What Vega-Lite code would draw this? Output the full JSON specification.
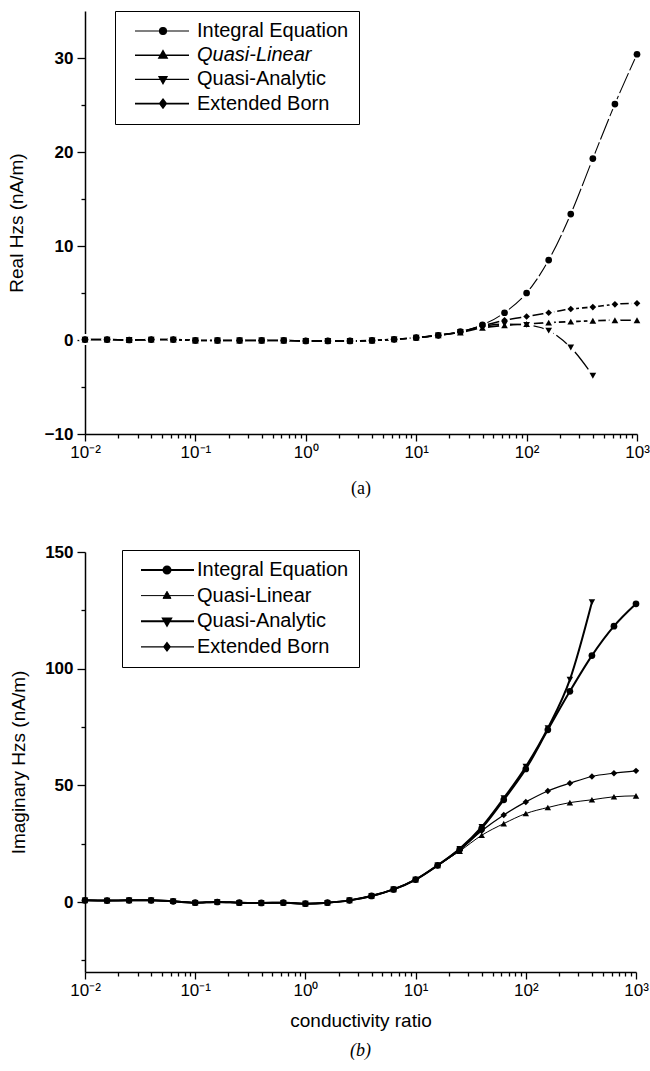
{
  "$schema": "https://vega.github.io/schema/vega-lite/v6.json",
  "padding": {"left": 7, "top": 10, "right": 2, "bottom": 2},
  "spacing": 45,
  "config": {
    "view": {"stroke": null},
    "font": "Liberation Sans",
    "axis": {"domainColor": "black", "tickColor": "black", "labelColor": "black", "titleColor": "black", "grid": false, "domainWidth": 1.5, "tickWidth": 1.3, "labelFont": "Liberation Sans", "titleFont": "Liberation Sans", "titleFontWeight": "normal", "labelOverlap": false, "labelFlush": false}
  },
  "resolve": {"scale": {"strokeWidth": "independent"}, "legend": {"strokeWidth": "independent"}},
  "datasets": {
    "d": [
      {"r": 0.01, "s": "Integral Equation", "re": 0.05, "im": 0.7},
      {"r": 0.01585, "s": "Integral Equation", "re": 0.05, "im": 0.6},
      {"r": 0.02512, "s": "Integral Equation", "re": 0.0, "im": 0.7},
      {"r": 0.03981, "s": "Integral Equation", "re": 0.05, "im": 0.7},
      {"r": 0.0631, "s": "Integral Equation", "re": 0.05, "im": 0.3},
      {"r": 0.1, "s": "Integral Equation", "re": -0.05, "im": -0.3},
      {"r": 0.1585, "s": "Integral Equation", "re": -0.05, "im": 0.0},
      {"r": 0.2512, "s": "Integral Equation", "re": -0.05, "im": -0.3},
      {"r": 0.3981, "s": "Integral Equation", "re": -0.05, "im": -0.4},
      {"r": 0.631, "s": "Integral Equation", "re": -0.05, "im": -0.3},
      {"r": 1, "s": "Integral Equation", "re": -0.1, "im": -0.7},
      {"r": 1.585, "s": "Integral Equation", "re": -0.1, "im": -0.3},
      {"r": 2.512, "s": "Integral Equation", "re": -0.1, "im": 0.7},
      {"r": 3.981, "s": "Integral Equation", "re": -0.05, "im": 2.6},
      {"r": 6.31, "s": "Integral Equation", "re": 0.07, "im": 5.4},
      {"r": 10, "s": "Integral Equation", "re": 0.25, "im": 9.6},
      {"r": 15.85, "s": "Integral Equation", "re": 0.5, "im": 15.7},
      {"r": 25.12, "s": "Integral Equation", "re": 0.9, "im": 22.6},
      {"r": 39.81, "s": "Integral Equation", "re": 1.6, "im": 31.6},
      {"r": 63.1, "s": "Integral Equation", "re": 2.9, "im": 43.8},
      {"r": 100, "s": "Integral Equation", "re": 5.0, "im": 57.0},
      {"r": 158.5, "s": "Integral Equation", "re": 8.5, "im": 73.8},
      {"r": 251.2, "s": "Integral Equation", "re": 13.4, "im": 90.3},
      {"r": 398.1, "s": "Integral Equation", "re": 19.3, "im": 105.6},
      {"r": 631, "s": "Integral Equation", "re": 25.1, "im": 118.2},
      {"r": 1000, "s": "Integral Equation", "re": 30.4, "im": 127.8},

      {"r": 0.01, "s": "Quasi-Linear", "re": 0.05, "im": 0.7},
      {"r": 0.01585, "s": "Quasi-Linear", "re": 0.05, "im": 0.6},
      {"r": 0.02512, "s": "Quasi-Linear", "re": 0.0, "im": 0.7},
      {"r": 0.03981, "s": "Quasi-Linear", "re": 0.05, "im": 0.7},
      {"r": 0.0631, "s": "Quasi-Linear", "re": 0.05, "im": 0.3},
      {"r": 0.1, "s": "Quasi-Linear", "re": -0.05, "im": -0.3},
      {"r": 0.1585, "s": "Quasi-Linear", "re": -0.05, "im": 0.0},
      {"r": 0.2512, "s": "Quasi-Linear", "re": -0.05, "im": -0.3},
      {"r": 0.3981, "s": "Quasi-Linear", "re": -0.05, "im": -0.4},
      {"r": 0.631, "s": "Quasi-Linear", "re": -0.05, "im": -0.3},
      {"r": 1, "s": "Quasi-Linear", "re": -0.1, "im": -0.7},
      {"r": 1.585, "s": "Quasi-Linear", "re": -0.1, "im": -0.3},
      {"r": 2.512, "s": "Quasi-Linear", "re": -0.1, "im": 0.7},
      {"r": 3.981, "s": "Quasi-Linear", "re": -0.05, "im": 2.6},
      {"r": 6.31, "s": "Quasi-Linear", "re": 0.07, "im": 5.4},
      {"r": 10, "s": "Quasi-Linear", "re": 0.25, "im": 9.6},
      {"r": 15.85, "s": "Quasi-Linear", "re": 0.5, "im": 15.7},
      {"r": 25.12, "s": "Quasi-Linear", "re": 0.8, "im": 21.8},
      {"r": 39.81, "s": "Quasi-Linear", "re": 1.3, "im": 28.6},
      {"r": 63.1, "s": "Quasi-Linear", "re": 1.55, "im": 33.6},
      {"r": 100, "s": "Quasi-Linear", "re": 1.7, "im": 37.9},
      {"r": 158.5, "s": "Quasi-Linear", "re": 1.85, "im": 40.5},
      {"r": 251.2, "s": "Quasi-Linear", "re": 1.95, "im": 42.6},
      {"r": 398.1, "s": "Quasi-Linear", "re": 2.05, "im": 43.8},
      {"r": 631, "s": "Quasi-Linear", "re": 2.1, "im": 45.1},
      {"r": 1000, "s": "Quasi-Linear", "re": 2.1, "im": 45.5},

      {"r": 0.01, "s": "Quasi-Analytic", "re": 0.05, "im": 0.7},
      {"r": 0.01585, "s": "Quasi-Analytic", "re": 0.05, "im": 0.6},
      {"r": 0.02512, "s": "Quasi-Analytic", "re": 0.0, "im": 0.7},
      {"r": 0.03981, "s": "Quasi-Analytic", "re": 0.05, "im": 0.7},
      {"r": 0.0631, "s": "Quasi-Analytic", "re": 0.05, "im": 0.3},
      {"r": 0.1, "s": "Quasi-Analytic", "re": -0.05, "im": -0.3},
      {"r": 0.1585, "s": "Quasi-Analytic", "re": -0.05, "im": 0.0},
      {"r": 0.2512, "s": "Quasi-Analytic", "re": -0.05, "im": -0.3},
      {"r": 0.3981, "s": "Quasi-Analytic", "re": -0.05, "im": -0.4},
      {"r": 0.631, "s": "Quasi-Analytic", "re": -0.05, "im": -0.3},
      {"r": 1, "s": "Quasi-Analytic", "re": -0.1, "im": -0.7},
      {"r": 1.585, "s": "Quasi-Analytic", "re": -0.1, "im": -0.3},
      {"r": 2.512, "s": "Quasi-Analytic", "re": -0.1, "im": 0.7},
      {"r": 3.981, "s": "Quasi-Analytic", "re": -0.05, "im": 2.6},
      {"r": 6.31, "s": "Quasi-Analytic", "re": 0.07, "im": 5.4},
      {"r": 10, "s": "Quasi-Analytic", "re": 0.25, "im": 9.6},
      {"r": 15.85, "s": "Quasi-Analytic", "re": 0.5, "im": 15.7},
      {"r": 25.12, "s": "Quasi-Analytic", "re": 0.85, "im": 22.8},
      {"r": 39.81, "s": "Quasi-Analytic", "re": 1.45, "im": 32.2},
      {"r": 63.1, "s": "Quasi-Analytic", "re": 1.7, "im": 44.5},
      {"r": 100, "s": "Quasi-Analytic", "re": 1.6, "im": 58.0},
      {"r": 158.5, "s": "Quasi-Analytic", "re": 1.0, "im": 74.5},
      {"r": 251.2, "s": "Quasi-Analytic", "re": -0.8, "im": 95.3},
      {"r": 398.1, "s": "Quasi-Analytic", "re": -3.8, "im": 128.5},

      {"r": 0.01, "s": "Extended Born", "re": 0.05, "im": 0.7},
      {"r": 0.01585, "s": "Extended Born", "re": 0.05, "im": 0.6},
      {"r": 0.02512, "s": "Extended Born", "re": 0.0, "im": 0.7},
      {"r": 0.03981, "s": "Extended Born", "re": 0.05, "im": 0.7},
      {"r": 0.0631, "s": "Extended Born", "re": 0.05, "im": 0.3},
      {"r": 0.1, "s": "Extended Born", "re": -0.05, "im": -0.3},
      {"r": 0.1585, "s": "Extended Born", "re": -0.05, "im": 0.0},
      {"r": 0.2512, "s": "Extended Born", "re": -0.05, "im": -0.3},
      {"r": 0.3981, "s": "Extended Born", "re": -0.05, "im": -0.4},
      {"r": 0.631, "s": "Extended Born", "re": -0.05, "im": -0.3},
      {"r": 1, "s": "Extended Born", "re": -0.1, "im": -0.7},
      {"r": 1.585, "s": "Extended Born", "re": -0.1, "im": -0.3},
      {"r": 2.512, "s": "Extended Born", "re": -0.1, "im": 0.7},
      {"r": 3.981, "s": "Extended Born", "re": -0.05, "im": 2.6},
      {"r": 6.31, "s": "Extended Born", "re": 0.07, "im": 5.4},
      {"r": 10, "s": "Extended Born", "re": 0.25, "im": 9.6},
      {"r": 15.85, "s": "Extended Born", "re": 0.5, "im": 15.7},
      {"r": 25.12, "s": "Extended Born", "re": 0.85, "im": 22.2},
      {"r": 39.81, "s": "Extended Born", "re": 1.5, "im": 30.5},
      {"r": 63.1, "s": "Extended Born", "re": 2.1, "im": 37.3},
      {"r": 100, "s": "Extended Born", "re": 2.5, "im": 42.9},
      {"r": 158.5, "s": "Extended Born", "re": 2.9, "im": 47.6},
      {"r": 251.2, "s": "Extended Born", "re": 3.3, "im": 50.9},
      {"r": 398.1, "s": "Extended Born", "re": 3.5, "im": 53.8},
      {"r": 631, "s": "Extended Born", "re": 3.8, "im": 55.2},
      {"r": 1000, "s": "Extended Born", "re": 3.9, "im": 56.2}
    ]
  },
  "vconcat": [
    {
      "width": 552,
      "height": 423,
      "data": {"name": "d"},
      "title": {"text": "(a)", "orient": "bottom", "font": "Liberation Serif", "fontSize": 18, "fontWeight": "normal", "color": "black", "offset": 20},
      "encoding": {
        "x": {
          "field": "r", "type": "quantitative",
          "scale": {"type": "log", "domain": [0.01, 1000], "nice": false},
          "axis": {
            "title": null,
            "values": [0.01,0.02,0.03,0.04,0.05,0.06,0.07,0.08,0.09,0.1,0.2,0.3,0.4,0.5,0.6,0.7,0.8,0.9,1,2,3,4,5,6,7,8,9,10,20,30,40,50,60,70,80,90,100,200,300,400,500,600,700,800,900,1000],
            "tickSize": {"condition": {"test": "abs(log(datum.value)/LN10 - round(log(datum.value)/LN10)) < 0.001", "value": 7}, "value": 4},
            "labelExpr": "abs(log(datum.value)/LN10 - round(log(datum.value)/LN10)) > 0.001 ? '' : datum.value < 0.05 ? '10⁻²' : datum.value < 0.5 ? '10⁻¹' : datum.value < 5 ? '10⁰' : datum.value < 50 ? '10¹' : datum.value < 500 ? '10²' : '10³'",
            "labelFontSize": 17, "labelPadding": 3
          }
        },
        "y": {
          "field": "re", "type": "quantitative",
          "scale": {"domain": [-10, 35], "nice": false, "zero": false},
          "axis": {
            "title": "Real Hzs (nA/m)", "titleFontSize": 19, "titlePadding": 18,
            "values": [-10,-5,0,5,10,15,20,25,30],
            "tickSize": {"condition": {"test": "datum.value % 10 == 0", "value": 8}, "value": 4},
            "labelExpr": "datum.value % 10 == 0 ? datum.label : ''",
            "labelFontSize": 17, "labelFontWeight": "bold", "labelPadding": 4
          }
        }
      },
      "layer": [
        {
          "mark": {"type": "line", "interpolate": "monotone", "color": "black", "strokeDash": [22, 3]},
          "encoding": {
            "detail": {"field": "s"},
            "strokeWidth": {
              "field": "s", "type": "nominal",
              "scale": {"type": "ordinal", "domain": ["Integral Equation", "Quasi-Linear", "Quasi-Analytic", "Extended Born"], "range": [1.1, 1.6, 1.3, 1.6]},
              "legend": {
                "title": null, "orient": "none", "legendX": 30, "legendY": 0,
                "labelFontSize": 20, "labelFont": "Liberation Sans", "labelColor": "black",
                "labelFontStyle": {"expr": "datum.value == 'Quasi-Linear' ? 'italic' : 'normal'"},
                "symbolType": {"expr": "datum.value == 'Integral Equation' ? 'M-5.6,0H5.2M-0.7,0A0.7,0.7,0,1,0,0.7,0A0.7,0.7,0,1,0,-0.7,0Z' : datum.value == 'Quasi-Linear' ? 'M-5.6,0H5.2M0,-0.85L0.8,0.55L-0.8,0.55Z' : datum.value == 'Quasi-Analytic' ? 'M-5.6,0H5.2M0,0.85L0.8,-0.55L-0.8,-0.55Z' : 'M-5.6,0H5.2M0,-0.85L0.65,0L0,0.85L-0.65,0Z'"},
                "symbolSize": 100, "symbolFillColor": "black", "symbolStrokeColor": "black", "symbolOpacity": 1,
                "symbolOffset": 28, "labelOffset": 24,
                "strokeColor": "black", "fillColor": "white", "padding": 10, "rowPadding": 4.2
              }
            }
          }
        },
        {
          "mark": {"type": "point", "filled": true, "shape": "circle", "color": "white", "size": 120, "opacity": 1},
          "encoding": {}
        },
        {
          "transform": [{"filter": {"field": "s", "equal": "Integral Equation"}}],
          "mark": {"type": "point", "filled": true, "shape": "circle", "color": "black", "size": 45, "opacity": 1},
          "encoding": {}
        },
        {
          "transform": [{"filter": {"field": "s", "equal": "Quasi-Linear"}}],
          "mark": {"type": "point", "filled": true, "shape": "triangle-up", "color": "black", "size": 45, "opacity": 1},
          "encoding": {}
        },
        {
          "transform": [{"filter": {"field": "s", "equal": "Quasi-Analytic"}}],
          "mark": {"type": "point", "filled": true, "shape": "triangle-down", "color": "black", "size": 45, "opacity": 1},
          "encoding": {}
        },
        {
          "transform": [{"filter": {"field": "s", "equal": "Extended Born"}}],
          "mark": {"type": "point", "filled": true, "shape": "diamond", "color": "black", "size": 45, "opacity": 1},
          "encoding": {}
        }
      ]
    },
    {
      "width": 551,
      "height": 420,
      "data": {"name": "d"},
      "title": {"text": "(b)", "orient": "bottom", "font": "Liberation Serif", "fontSize": 18, "fontStyle": "italic", "fontWeight": "normal", "color": "black", "offset": 12},
      "encoding": {
        "x": {
          "field": "r", "type": "quantitative",
          "scale": {"type": "log", "domain": [0.01, 1000], "nice": false},
          "axis": {
            "title": "conductivity ratio", "titleFontSize": 19, "titlePadding": 13,
            "values": [0.01,0.02,0.03,0.04,0.05,0.06,0.07,0.08,0.09,0.1,0.2,0.3,0.4,0.5,0.6,0.7,0.8,0.9,1,2,3,4,5,6,7,8,9,10,20,30,40,50,60,70,80,90,100,200,300,400,500,600,700,800,900,1000],
            "tickSize": {"condition": {"test": "abs(log(datum.value)/LN10 - round(log(datum.value)/LN10)) < 0.001", "value": 7}, "value": 4},
            "labelExpr": "abs(log(datum.value)/LN10 - round(log(datum.value)/LN10)) > 0.001 ? '' : datum.value < 0.05 ? '10⁻²' : datum.value < 0.5 ? '10⁻¹' : datum.value < 5 ? '10⁰' : datum.value < 50 ? '10¹' : datum.value < 500 ? '10²' : '10³'",
            "labelFontSize": 17, "labelPadding": 3
          }
        },
        "y": {
          "field": "im", "type": "quantitative",
          "scale": {"domain": [-30, 150], "nice": false, "zero": false},
          "axis": {
            "title": "Imaginary Hzs (nA/m)", "titleFontSize": 19, "titlePadding": 16,
            "values": [-25,0,25,50,75,100,125,150],
            "tickSize": {"condition": {"test": "datum.value % 50 == 0", "value": 8}, "value": 4},
            "labelExpr": "datum.value % 50 == 0 ? datum.label : ''",
            "labelFontSize": 17, "labelFontWeight": "bold", "labelPadding": 4
          }
        }
      },
      "layer": [
        {
          "mark": {"type": "line", "interpolate": "monotone", "color": "black"},
          "encoding": {
            "detail": {"field": "s"},
            "strokeWidth": {
              "field": "s", "type": "nominal",
              "scale": {"type": "ordinal", "domain": ["Integral Equation", "Quasi-Linear", "Quasi-Analytic", "Extended Born"], "range": [2, 1, 2, 1.2]},
              "legend": {
                "title": null, "orient": "none", "legendX": 37, "legendY": -2,
                "labelFontSize": 20, "labelFont": "Liberation Sans", "labelColor": "black",
                "symbolType": {"expr": "datum.value == 'Integral Equation' ? 'M-5.2,0H5.4M-0.7,0A0.7,0.7,0,1,0,0.7,0A0.7,0.7,0,1,0,-0.7,0Z' : datum.value == 'Quasi-Linear' ? 'M-5.2,0H5.4M0,-0.85L0.8,0.55L-0.8,0.55Z' : datum.value == 'Quasi-Analytic' ? 'M-5.2,0H5.4M0,0.85L0.8,-0.55L-0.8,-0.55Z' : 'M-5.2,0H5.4M0,-0.85L0.65,0L0,0.85L-0.65,0Z'"},
                "symbolSize": 100, "symbolFillColor": "black", "symbolStrokeColor": "black", "symbolOpacity": 1,
                "symbolOffset": 25, "labelOffset": 20,
                "strokeColor": "black", "fillColor": "white", "padding": 10, "rowPadding": 5.6
              }
            }
          }
        },
        {
          "transform": [{"filter": {"field": "s", "equal": "Integral Equation"}}],
          "mark": {"type": "point", "filled": true, "shape": "circle", "color": "black", "size": 45, "opacity": 1},
          "encoding": {}
        },
        {
          "transform": [{"filter": {"field": "s", "equal": "Quasi-Linear"}}],
          "mark": {"type": "point", "filled": true, "shape": "triangle-up", "color": "black", "size": 42, "opacity": 1},
          "encoding": {}
        },
        {
          "transform": [{"filter": {"field": "s", "equal": "Quasi-Analytic"}}],
          "mark": {"type": "point", "filled": true, "shape": "triangle-down", "color": "black", "size": 42, "opacity": 1},
          "encoding": {}
        },
        {
          "transform": [{"filter": {"field": "s", "equal": "Extended Born"}}],
          "mark": {"type": "point", "filled": true, "shape": "diamond", "color": "black", "size": 42, "opacity": 1},
          "encoding": {}
        }
      ]
    }
  ]
}
